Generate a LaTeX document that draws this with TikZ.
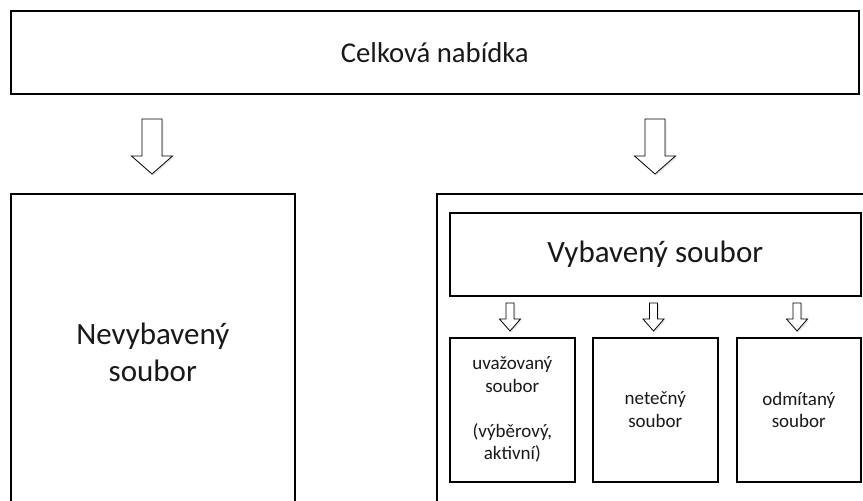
\documentclass[tikz,border=0pt]{standalone}
\usepackage{fontspec}
\setmainfont{Carlito}
\usetikzlibrary{shadows}
\newcommand{\blockarr}[6]{% cx, ytop, ymid, ytip, half shaft, half head
  \filldraw[barrow] (#1-#5,#2) -- (#1+#5,#2) -- (#1+#5,#3) -- (#1+#6,#3) -- (#1,#4)
    -- (#1-#6,#3) -- (#1-#5,#3) -- cycle;}
\begin{document}
\begin{tikzpicture}[x=1pt,y=-1pt,
  box/.style={draw=black,line width=1.6pt,fill=white,anchor=north west,inner sep=0pt,
    align=center,text=black!90,
    drop shadow={opacity=0.25,shadow xshift=1.6pt,shadow yshift=-1.6pt}},
  barrow/.style={draw=black,line width=0.8pt,fill=white,line join=miter,
    drop shadow={opacity=0.2,shadow xshift=1.5pt,shadow yshift=-1.5pt}},
  bigtxt/.style={font=\fontsize{28.7pt}{35pt}\selectfont},
  hugetxt/.style={font=\fontsize{31pt}{37pt}\selectfont},
  smalltxt/.style={font=\fontsize{19pt}{22.5pt}\selectfont}]
\useasboundingbox (0,0) rectangle (863,501);
\clip (0,0) rectangle (863,501);
% top box
\node[box,bigtxt,minimum width=848pt,minimum height=83pt] (top) at (10,10) {Celková nabídka};
% left box
\node[box,hugetxt,minimum width=284pt,minimum height=318pt] (nev) at (10,193) {Nevybavený\\soubor};
% right big box
\node[box,minimum width=444pt,minimum height=318pt] (vyb) at (436,193) {};
\node[box,hugetxt,minimum width=411pt,minimum height=83pt] (vybh) at (449,212) {Vybavený soubor};
\node[box,smalltxt,minimum width=125pt,minimum height=144pt] (uva) at (449,337)
  {uvažovaný\\soubor\\[22.5pt](výběrový,\\aktivní)};
\node[box,smalltxt,minimum width=125pt,minimum height=144pt] (net) at (592,337)
  {netečný\\soubor};
\node[box,smalltxt,minimum width=124pt,minimum height=144pt] (odm) at (736,337)
  {odmítaný\\soubor};
% block arrows
\blockarr{152}{119}{156}{174}{10}{20.5}
\blockarr{655}{119}{156}{174}{10}{20.5}
\blockarr{510}{303}{319}{331}{4}{10.5}
\blockarr{653.5}{303}{319}{331}{4}{10.5}
\blockarr{797}{303}{319}{331}{4}{10.5}
\end{tikzpicture}
\end{document}
